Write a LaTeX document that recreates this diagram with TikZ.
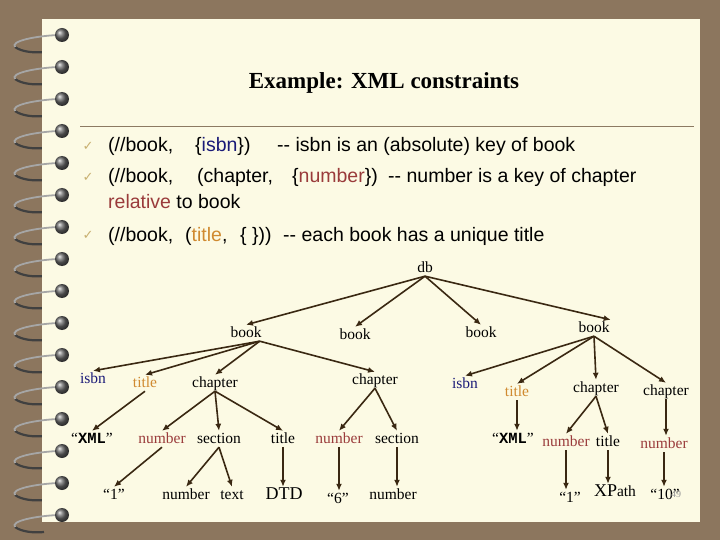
\documentclass[tikz,border=0pt]{standalone}
\usepackage{fontspec}
\setmainfont{Liberation Serif}
\setsansfont{Liberation Sans}
\setmonofont{Liberation Mono}
\newfontfamily\symfont{DejaVu Sans}
\usepackage{tikz}
\usetikzlibrary{arrows.meta}
\definecolor{bgbrown}{HTML}{8C765E}
\definecolor{paper}{HTML}{FCFAE4}
\definecolor{arrowc}{HTML}{3A2812}
\definecolor{keyblue}{HTML}{1A1A78}
\definecolor{keyred}{HTML}{9A3B3B}
\definecolor{keyorange}{HTML}{D08A30}
\definecolor{checkc}{HTML}{C8B070}
\definecolor{rulec}{HTML}{8C7A62}

\begin{document}
\begin{tikzpicture}[x=1pt, y=-1pt, >={Latex[length=7pt,width=6pt]},
    tn/.style={inner sep=1pt, text height=11pt, text depth=3pt, anchor=base,
      font=\fontsize{15.5}{17}\selectfont},
    ln/.style={inner sep=0pt, anchor=base west, font=\sffamily\fontsize{19.5}{22}\selectfont},
    chk/.style={inner sep=0pt, anchor=base, text=checkc, font=\symfont\fontsize{13}{14}\selectfont},
    arr/.style={->, line width=1.6pt, draw=arrowc}]
      % page and spiral
      \fill[bgbrown] (0,0) rectangle (720,540);
      \foreach \y in {35,67,...,515}{
        \draw[line width=2.2pt, black!75] (15,\y+12) .. controls (22,\y+17) and (34,\y+18) .. (44,\y+17);
      }
      \fill[paper] (42,19) rectangle (700,522);
      \foreach \y in {35,67,...,515}{
        \draw[line width=1.8pt, black!35] (58,\y) .. controls (36,\y+1) and (10,\y+6) .. (15,\y+12);
        \shade[ball color=black!60] (62,\y) circle (7);
      }
      \node at (384,89)[anchor=base, font=\bfseries\fontsize{23}{26}\selectfont] (title){Example: XML constraints};
      \draw[rulec, line width=1pt] (80,127) -- (694,127);
      % constraints
      \node at (88,151)[chk] (c1){✓};
      \node at (108,152)[ln] (l1a){(//book,};
      \node at (195,152)[ln] (l1b){\{\textcolor{keyblue}{isbn}\})};
      \node at (277,152)[ln] (l1c){-{}- isbn is an (absolute) key of book};
      \node at (88,182)[chk] (c2){✓};
      \node at (108,183)[ln] (l2a){(//book,};
      \node at (197,183)[ln] (l2b){(chapter,};
      \node at (292,183)[ln] (l2c){\{\textcolor{keyred}{number}\})};
      \node at (388,183)[ln] (l2d){-{}- number is a key of chapter};
      \node at (108,208)[ln] (l3a){\textcolor{keyred}{relative} to book};
      \node at (88,240)[chk] (c3){✓};
      \node at (108,241)[ln] (l4a){(//book,};
      \node at (185,241)[ln] (l4b){(\textcolor{keyorange}{title},};
      \node at (240,241)[ln] (l4c){\{ \}))};
      \node at (283,241)[ln] (l4d){-{}- each book has a unique title};
      % tree
      \node at (425,272)[tn] (db){db};
      \node at (246,337)[tn] (bk1){book};
      \node at (355,339)[tn] (bk2){book};
      \node at (481,337)[tn] (bk3){book};
      \node at (594,332)[tn] (bk4){book};
      \node at (93,383)[tn, text=keyblue] (isbn1){isbn};
      \node at (145,387)[tn, text=keyorange] (ttl1){title};
      \node at (215,387)[tn] (ch1){chapter};
      \node at (375,384)[tn] (ch2){chapter};
      \node at (465,388)[tn, text=keyblue] (isbn2){isbn};
      \node at (517,396)[tn, text=keyorange] (ttl2){title};
      \node at (596,392)[tn] (ch3){chapter};
      \node at (666,395)[tn] (ch4){chapter};
      \node at (92,443)[tn] (xml1){“\texttt{\textbf{XML}}”};
      \node at (162,443)[tn, text=keyred] (num1){number};
      \node at (219,443)[tn] (sec1){section};
      \node at (283,443)[tn] (ttl3){title};
      \node at (339,443)[tn, text=keyred] (num2){number};
      \node at (397,443)[tn] (sec2){section};
      \node at (513,443)[tn] (xml2){“\texttt{\textbf{XML}}”};
      \node at (566,446)[tn, text=keyred] (num3){number};
      \node at (608,446)[tn] (ttl4){title};
      \node at (664,448)[tn, text=keyred] (num4){number};
      \node at (114,499)[tn] (one1){“1”};
      \node at (186,499)[tn] (num5){number};
      \node at (232,499)[tn] (txt){text};
      \node at (284,499)[tn, font=\fontsize{18}{20}\selectfont] (dtd){DTD};
      \node at (338,503)[tn] (six){“6”};
      \node at (393,499)[tn] (num6){number};
      \node at (570,502)[tn] (one2){“1”};
      \node at (615,496)[tn] (xpath){{\fontsize{18}{20}\selectfont XP}ath};
      \node at (665,499)[tn] (ten){“10”};
      \node at (676,497)[anchor=base, inner sep=0pt, text=black!40, font=\fontsize{10}{11}\selectfont] (pg){49};
      \draw[arr] (db.south) -- (bk1.north);
      \draw[arr] (db.south) -- (bk2.north);
      \draw[arr] (db.south) -- (bk3.north);
      \draw[arr] (db.south) -- (bk4.north east);
      \draw[arr] ([xshift=-3pt]bk1.south east) -- (isbn1.north);
      \draw[arr] ([xshift=-3pt]bk1.south east) -- (ttl1.north);
      \draw[arr] ([xshift=-3pt]bk1.south east) -- (ch1.north);
      \draw[arr] ([xshift=-3pt]bk1.south east) -- (ch2.north);
      \draw[arr] (bk4.south) -- (isbn2.north);
      \draw[arr] (bk4.south) -- (ttl2.north);
      \draw[arr] (bk4.south) -- (ch3.north);
      \draw[arr] (bk4.south) -- (ch4.north);
      \draw[arr] (ttl1.south) -- (xml1.north);
      \draw[arr] (ch1.south) -- (num1.north);
      \draw[arr] (ch1.south) -- (sec1.north);
      \draw[arr] (ch1.south) -- (ttl3.north);
      \draw[arr] (ch2.south) -- (num2.north);
      \draw[arr] (ch2.south) -- (sec2.north);
      \draw[arr] (ttl2.south) -- (ttl2.south |- xml2.north);
      \draw[arr] (ch3.south) -- (num3.north);
      \draw[arr] (ch3.south) -- (ttl4.north);
      \draw[arr] (ch4.south) -- (ch4.south |- num4.north);
      \draw[arr] (num1.south) -- (one1.north);
      \draw[arr] (sec1.south) -- (num5.north);
      \draw[arr] (sec1.south) -- (txt.north);
      \draw[arr] (ttl3.south) -- (ttl3.south |- dtd.north);
      \draw[arr] (num2.south) -- (num2.south |- six.north);
      \draw[arr] (sec2.south) -- (sec2.south |- num6.north);
      \draw[arr] (num3.south) -- (num3.south |- one2.north);
      \draw[arr] (ttl4.south) -- (ttl4.south |- xpath.north);
      \draw[arr] (num4.south) -- (num4.south |- ten.north);
\end{tikzpicture}
\end{document}
